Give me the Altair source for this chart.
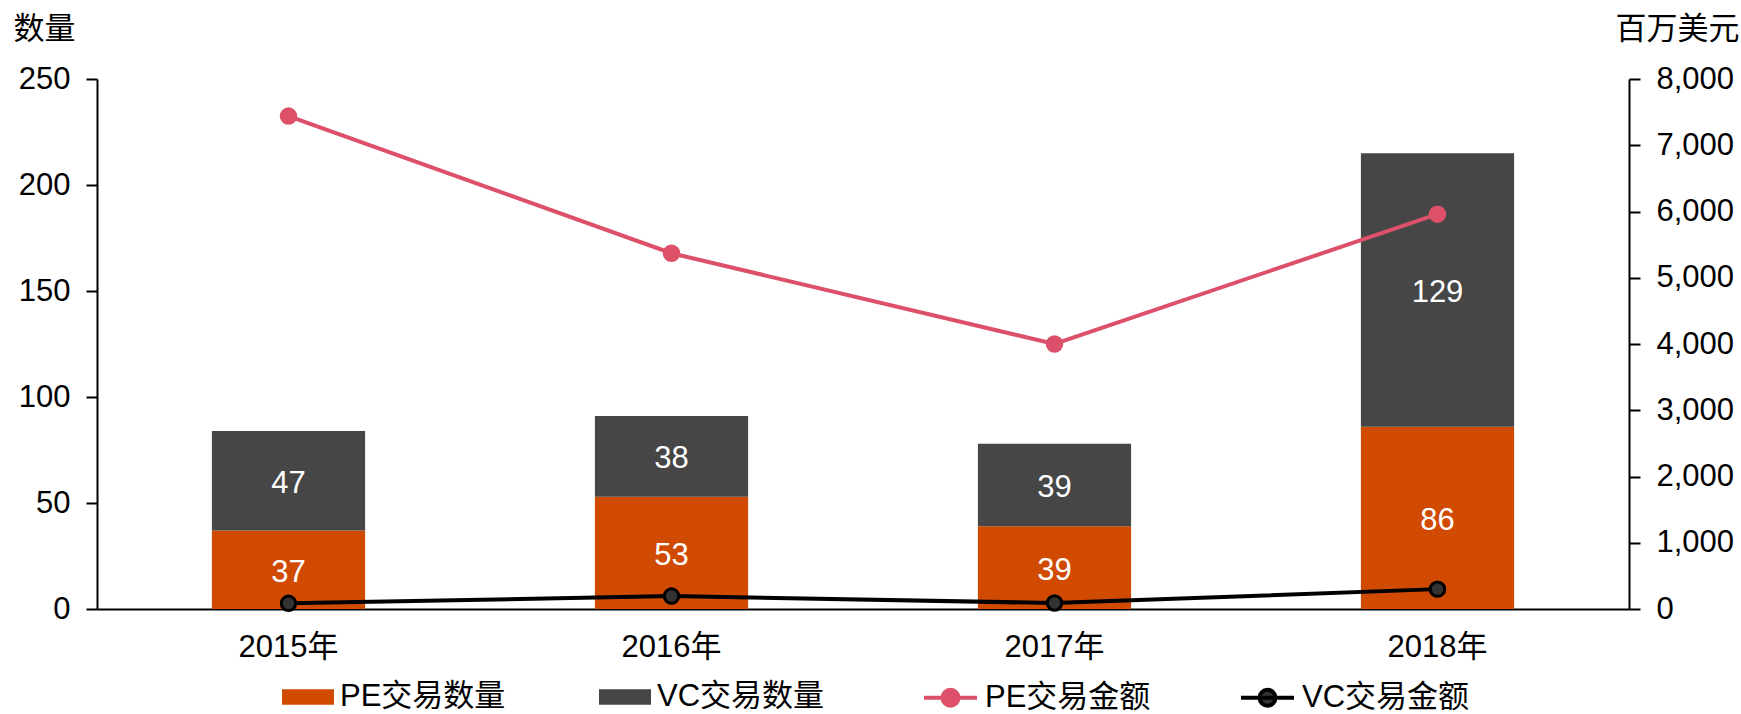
import altair as alt
import pandas as pd

years = ["2015年", "2016年", "2017年", "2018年"]
pe_counts = [37, 53, 39, 86]
vc_counts = [47, 38, 39, 129]
pe_amounts = [7440, 5370, 4000, 5960]
vc_amounts = [85, 195, 90, 300]

count_series = ["PE交易数量", "VC交易数量"]
amount_series = ["PE交易金额", "VC交易金额"]

bar_colors = ["#D04A02", "#464646"]
line_strokes = ["#DC5169", "#000000"]
point_fills = ["#DC5169", "#333333"]

FONT = "Liberation Sans, Arial, Noto Sans CJK SC"
FS = 31

counts = pd.DataFrame(
    [{"year": y, "series": count_series[0], "count": v, "order": 0} for y, v in zip(years, pe_counts)]
    + [{"year": y, "series": count_series[1], "count": v, "order": 1} for y, v in zip(years, vc_counts)]
)
amounts = pd.DataFrame(
    [{"year": y, "series": amount_series[0], "amount": v} for y, v in zip(years, pe_amounts)]
    + [{"year": y, "series": amount_series[1], "amount": v} for y, v in zip(years, vc_amounts)]
)

x_enc = alt.X(
    "year:N",
    sort=years,
    scale=alt.Scale(paddingInner=0.6, paddingOuter=0.3),
    axis=alt.Axis(title=None, labelAngle=0, ticks=False, tickSize=0, labelPadding=23,
                  domainColor="#000", domainWidth=2),
)

rect_path = "M-1,-0.3H1V0.3H-1Z"
line_path = "M-1,0H1M-0.3,0A0.3,0.3,0,1,1,0.3,0A0.3,0.3,0,1,1,-0.3,0Z"

left_axis = alt.Axis(
    title="数量", titleAngle=0, titleAlign="left", titleBaseline="middle",
    titleX=-84, titleY=-50, titleFontSize=FS, titleFontWeight="normal",
    values=[0, 50, 100, 150, 200, 250], tickSize=11, labelPadding=16,
    grid=False, domainColor="#000", domainWidth=2, tickColor="#000", tickWidth=2,
)
right_axis = alt.Axis(
    title="百万美元", orient="right", titleAngle=0, titleAlign="left", titleBaseline="middle",
    titleX=-14, titleY=-50, titleFontSize=FS, titleFontWeight="normal",
    values=list(range(0, 8001, 1000)), labelExpr="format(datum.value, ',')",
    tickSize=11, labelPadding=16,
    grid=False, domainColor="#000", domainWidth=2, tickColor="#000", tickWidth=2,
)

def legend_at(x, y, sym, size, sw, pad):
    return alt.Legend(
        title=None, orient="none", direction="horizontal", legendX=x, legendY=y,
        symbolType=sym, symbolSize=size, symbolStrokeWidth=sw,
        labelOffset=6, columnPadding=pad, labelFontSize=FS, labelLimit=0,
    )

bars = alt.Chart(counts).mark_bar().encode(
    x=x_enc,
    y=alt.Y("count:Q", stack="zero", scale=alt.Scale(domain=[0, 250], nice=False), axis=left_axis),
    color=alt.Color(
        "series:N",
        scale=alt.Scale(domain=count_series, range=bar_colors),
        legend=legend_at(185, 592, rect_path, 2704, 0, 93),
    ),
    order=alt.Order("order:Q"),
)

labels = alt.Chart(counts).transform_stack(
    stack="count", groupby=["year"], as_=["s0", "s1"], sort=[alt.SortField("order")]
).transform_calculate(
    mid="(datum.s0 + datum.s1) / 2"
).mark_text(color="white", fontSize=FS, font=FONT, baseline="middle", dy=3).encode(
    x=alt.X("year:N", sort=years),
    y=alt.Y("mid:Q"),
    text=alt.Text("count:Q"),
)

left = alt.layer(bars, labels)

amount_y = alt.Y("amount:Q", scale=alt.Scale(domain=[0, 8000], nice=False), axis=right_axis)

lines = alt.Chart(amounts).mark_line(strokeWidth=4).encode(
    x=alt.X("year:N", sort=years),
    y=amount_y,
    stroke=alt.Stroke(
        "series:N",
        scale=alt.Scale(domain=amount_series, range=line_strokes),
        legend=legend_at(825, 590, line_path, 2809, 4, 82),
    ),
)

points = alt.Chart(amounts).mark_point(filled=True, size=210, strokeWidth=3, opacity=1).encode(
    x=alt.X("year:N", sort=years),
    y=amount_y,
    fill=alt.Fill(
        "series:N",
        scale=alt.Scale(domain=amount_series, range=point_fills),
        legend=legend_at(825, 590, line_path, 2809, 4, 82),
    ),
    stroke=alt.Stroke("series:N"),
)

right = alt.layer(lines, points)

chart = alt.layer(left, right).resolve_scale(y="independent").properties(
    width=1532, height=530,
    autosize=alt.AutoSizeParams(type="none"),
    padding={"left": 97, "top": 79, "right": 112, "bottom": 105},
).configure(
    font=FONT,
).configure_view(
    stroke=None,
).configure_axis(
    labelFont=FONT, labelFontSize=FS, labelColor="#000", titleFont=FONT, titleColor="#000",
).configure_legend(
    labelFont=FONT, labelFontSize=FS, labelColor="#000",
)

chart.save("out.html", embed_options={"renderer": "svg", "actions": False})
